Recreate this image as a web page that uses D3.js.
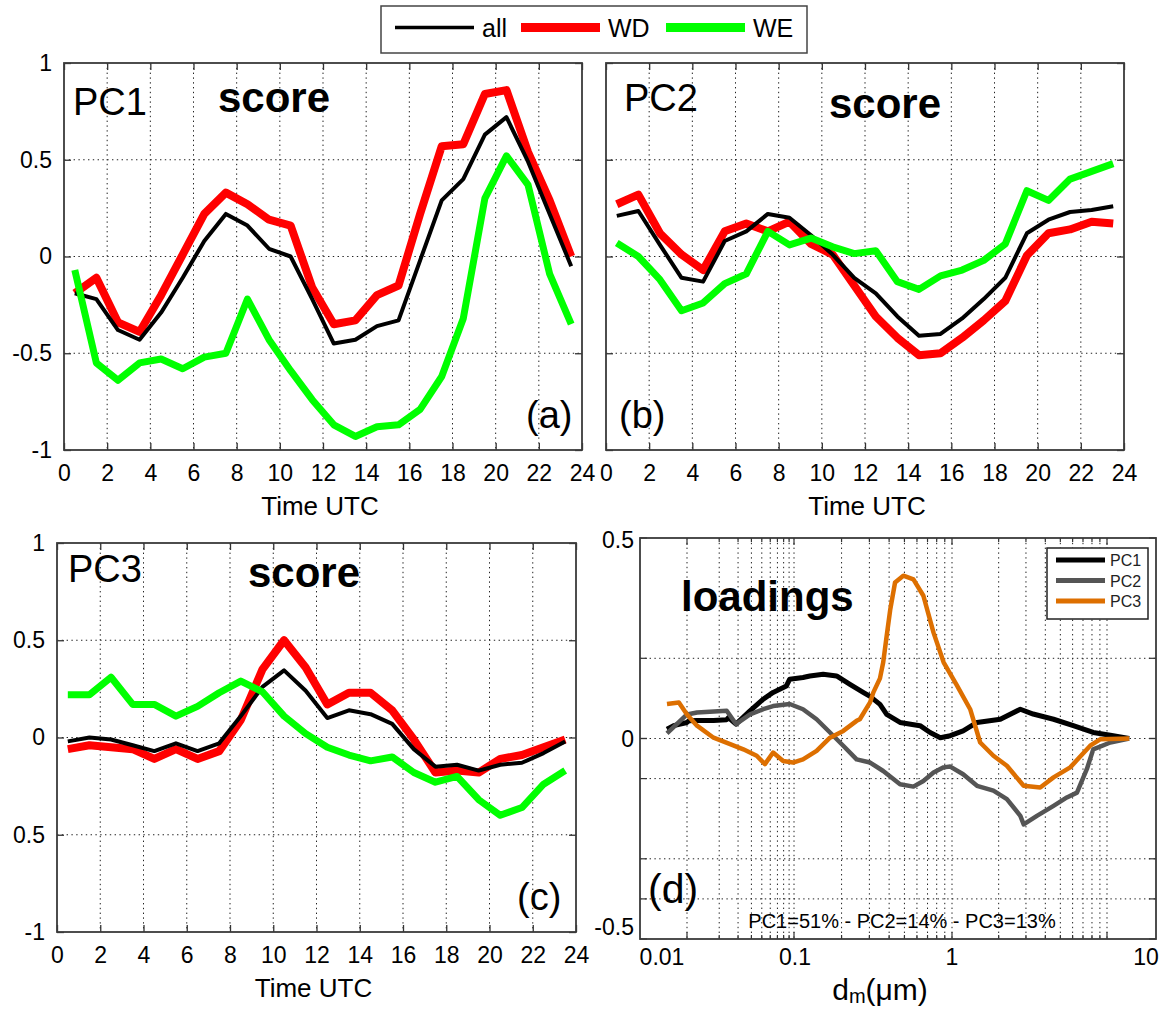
<!DOCTYPE html>
<html>
<head>
<meta charset="utf-8">
<script src="https://cdn.jsdelivr.net/npm/d3@7"></script>
<style>
  body { margin: 0; background: #fff; }
  svg { display: block; font-family: "Liberation Sans", Arial, sans-serif; }
  .grid { stroke: #222; stroke-width: 1; stroke-dasharray: 1.4, 3.4; fill: none; }
  .frame { fill: none; stroke: #3a3a3a; stroke-width: 1.8; }
</style>
</head>
<body>
<svg id="fig" width="1168" height="1009"></svg>
<script>
// ---- data ----
const hours = [0.5, 1.5, 2.5, 3.5, 4.5, 5.5, 6.5, 7.5, 8.5, 9.5, 10.5, 11.5,
               12.5, 13.5, 14.5, 15.5, 16.5, 17.5, 18.5, 19.5, 20.5, 21.5, 22.5, 23.5];

const pc1All = [-0.19, -0.22, -0.38, -0.43, -0.29, -0.11, 0.08, 0.22, 0.16, 0.04, 0.00, -0.22,
                -0.45, -0.43, -0.36, -0.33, -0.02, 0.29, 0.40, 0.63, 0.72, 0.49, 0.22, -0.05];
const pc1WD  = [-0.19, -0.11, -0.34, -0.39, -0.20, 0.01, 0.22, 0.33, 0.27, 0.19, 0.16, -0.16,
                -0.35, -0.33, -0.20, -0.15, 0.22, 0.57, 0.58, 0.84, 0.86, 0.54, 0.29, 0.00];
const pc1WE  = [-0.07, -0.55, -0.64, -0.55, -0.53, -0.58, -0.52, -0.50, -0.22, -0.43, -0.59, -0.74,
                -0.87, -0.93, -0.88, -0.87, -0.79, -0.62, -0.32, 0.30, 0.52, 0.37, -0.09, -0.35];

const pc2All = [0.21, 0.235, 0.06, -0.11, -0.13, 0.08, 0.13, 0.22, 0.20, 0.11, 0.01, -0.11,
                -0.19, -0.31, -0.41, -0.40, -0.32, -0.22, -0.11, 0.12, 0.19, 0.23, 0.24, 0.26];
const pc2WD  = [0.27, 0.32, 0.12, 0.01, -0.07, 0.13, 0.17, 0.13, 0.18, 0.065, 0.01, -0.15,
                -0.31, -0.42, -0.51, -0.50, -0.42, -0.33, -0.23, 0.005, 0.12, 0.14, 0.18, 0.17];
const pc2WE  = [0.07, 0.00, -0.12, -0.28, -0.24, -0.14, -0.09, 0.13, 0.06, 0.095, 0.05, 0.015,
                0.03, -0.13, -0.17, -0.10, -0.07, -0.02, 0.065, 0.34, 0.29, 0.40, 0.44, 0.48];

const pc3All = [-0.02, 0.00, -0.01, -0.04, -0.07, -0.03, -0.07, -0.03, 0.11, 0.26, 0.345, 0.24,
                0.10, 0.14, 0.12, 0.07, -0.06, -0.15, -0.14, -0.17, -0.14, -0.13, -0.08, -0.02];
const pc3WD  = [-0.06, -0.04, -0.05, -0.06, -0.11, -0.06, -0.11, -0.07, 0.09, 0.35, 0.50, 0.36,
                0.17, 0.23, 0.23, 0.14, -0.01, -0.18, -0.17, -0.18, -0.11, -0.09, -0.05, -0.01];
const pc3WE  = [0.22, 0.22, 0.31, 0.17, 0.17, 0.11, 0.16, 0.23, 0.29, 0.235, 0.11, 0.02,
                -0.05, -0.09, -0.12, -0.10, -0.18, -0.23, -0.20, -0.32, -0.40, -0.36, -0.24, -0.17];

// loadings: diameter (um) and value
const dmPC1 = [0.0065, 0.0075, 0.0100, 0.0104, 0.0124, 0.0177, 0.0235, 0.0244, 0.0287, 0.0388, 0.0516,
               0.0638, 0.0849, 0.0912, 0.114, 0.126, 0.153, 0.186, 0.226, 0.274, 0.303, 0.350, 0.386,
               0.469, 0.560, 0.628, 0.727, 0.843, 0.975, 1.18, 1.45, 2.05, 2.76, 3.34, 4.52, 6.06,
               8.15, 10.5, 13.9];
const ldPC1 = [0.023, 0.032, 0.040, 0.044, 0.045, 0.045, 0.047, 0.052, 0.036, 0.069, 0.098,
               0.115, 0.131, 0.148, 0.152, 0.156, 0.160, 0.156, 0.135, 0.115, 0.105, 0.085, 0.060,
               0.040, 0.035, 0.032, 0.015, 0.002, 0.007, 0.019, 0.040, 0.048, 0.073, 0.061, 0.048, 0.032,
               0.015, 0.008, 0.000];

const dmPC2 = [0.0065, 0.0100, 0.0124, 0.0235, 0.0287, 0.0388, 0.0516, 0.0638, 0.0912, 0.114, 0.139,
               0.169, 0.205, 0.249, 0.303, 0.367, 0.469, 0.570, 0.659, 0.764, 0.885, 0.975, 1.18,
               1.45, 1.85, 2.26, 2.76, 2.90, 3.53, 4.52, 5.51, 6.40, 7.42, 8.15, 10.5, 13.9];
const ldPC2 = [0.013, 0.060, 0.065, 0.069, 0.036, 0.060, 0.073, 0.081, 0.086, 0.073, 0.048,
               0.015, -0.018, -0.052, -0.060, -0.081, -0.114, -0.120, -0.106, -0.085, -0.072, -0.070, -0.089,
               -0.118, -0.130, -0.151, -0.193, -0.214, -0.193, -0.168, -0.147, -0.135, -0.076, -0.027, -0.010, 0.000];

const dmPC3 = [0.0065, 0.0084, 0.0100, 0.0124, 0.0177, 0.0253, 0.0336, 0.0448, 0.0535, 0.0638, 0.0791,
               0.0979, 0.114, 0.139, 0.169, 0.205, 0.249, 0.261, 0.303, 0.318, 0.350, 0.367, 0.386, 0.406,
               0.436, 0.492, 0.570, 0.659, 0.764, 0.885, 1.08, 1.31, 1.52, 1.85, 2.26, 2.90,
               3.71, 4.52, 5.79, 7.79, 9.03, 13.9];
const ldPC3 = [0.086, 0.090, 0.060, 0.032, 0.002, -0.014, -0.027, -0.043, -0.064, -0.035, -0.056,
               -0.060, -0.052, -0.031, 0.002, 0.019, 0.044, 0.048, 0.090, 0.115, 0.150, 0.190, 0.256, 0.320,
               0.389, 0.406, 0.397, 0.356, 0.264, 0.190, 0.131, 0.073, -0.010, -0.043, -0.068, -0.118,
               -0.122, -0.097, -0.072, -0.018, -0.002, 0.000];

const seriesNames = ["all", "WD", "WE"];
const seriesColors = ["#000000", "#ff0000", "#00ff00"];
const seriesWidths = [4, 8, 7];
const loadNames = ["PC1", "PC2", "PC3"];
const loadColors = ["#000000", "#555555", "#dd6f00"];

const hourTicks = [0, 2, 4, 6, 8, 10, 12, 14, 16, 18, 20, 22, 24];
const scoreTicks = [-1, -0.5, 0, 0.5, 1];
const scoreTicksC = ["-1", "0.5", "0", "0.5", "1"];   // as printed in panel (c)
const loadTicks = [-0.5, 0, 0.5];
const loadGridY = [0.2, 0, -0.1, -0.3, -0.4];
const dmDecades = [0.01, 0.1, 1, 10];
const dmLabels = ["0.01", "0.1", "1", "10"];
const dmMinor = [1, 2, 3, 4, 5, 6, 7, 8, 9];

// ---- drawing ----
const svg = d3.select("#fig");
const FONT = 23;

function scorePanel(box, data, o) {
  const g = svg.append("g");
  const x = d3.scaleLinear().domain([0, 24]).range([box.x0, box.x1]);
  const y = d3.scaleLinear().domain([-1, 1]).range([box.y1, box.y0]);

  // grid
  g.selectAll(".gx").data(hourTicks.slice(1, -1)).join("line").attr("class", "grid")
    .attr("x1", d => x(d)).attr("x2", d => x(d)).attr("y1", box.y0).attr("y2", box.y1);
  g.selectAll(".gy").data(scoreTicks.slice(1, -1)).join("line").attr("class", "grid")
    .attr("y1", d => y(d)).attr("y2", d => y(d)).attr("x1", box.x0).attr("x2", box.x1);

  // axes (ticks inward)
  g.append("g").attr("transform", `translate(0,${box.y1})`)
    .call(d3.axisBottom(x).tickValues(hourTicks).tickSizeInner(-7).tickSizeOuter(0).tickPadding(15));
  g.append("g").attr("transform", `translate(0,${box.y0})`)
    .call(d3.axisTop(x).tickValues(hourTicks).tickSizeInner(-7).tickSizeOuter(0).tickFormat(""));
  g.append("g").attr("transform", `translate(${box.x0},0)`)
    .call(d3.axisLeft(y).tickValues(scoreTicks).tickSizeInner(-7).tickSizeOuter(0).tickPadding(12)
      .tickFormat((d, i) => o.ylabels ? o.ylabels[i] : ""));
  g.append("g").attr("transform", `translate(${box.x1},0)`)
    .call(d3.axisRight(y).tickValues(scoreTicks).tickSizeInner(-7).tickSizeOuter(0).tickFormat(""));
  g.selectAll(".domain").remove();
  g.selectAll(".tick line").attr("stroke", "#333").attr("stroke-width", 1.3);
  g.selectAll(".tick text").attr("font-size", FONT).attr("font-family", null).attr("fill", "#000");

  // lines
  const line = d3.line().x((d, i) => x(hours[i])).y(d => y(d));
  [1, 0, 2].forEach(k => {
    g.append("path").attr("d", line(data[k])).attr("fill", "none")
      .attr("stroke", seriesColors[k]).attr("stroke-width", seriesWidths[k])
      .attr("stroke-linejoin", "round").attr("stroke-linecap", "butt");
  });

  g.append("rect").attr("class", "frame").attr("x", box.x0).attr("y", box.y0)
    .attr("width", box.x1 - box.x0).attr("height", box.y1 - box.y0);

  g.append("text").attr("x", (box.x0 + box.x1) / 2 + o.tdx).attr("y", box.y1 + 65)
    .attr("text-anchor", "middle").attr("font-size", 26).text("Time UTC");
  g.append("text").attr("x", o.pc[0]).attr("y", o.pc[1]).attr("font-size", 38).text(o.pcText);
  g.append("text").attr("x", o.sc[0]).attr("y", o.sc[1]).attr("font-size", 42)
    .attr("font-weight", "bold").text("score");
  g.append("text").attr("x", o.lab[0]).attr("y", o.lab[1]).attr("font-size", 38).text(o.labText);
}

scorePanel({x0: 64, x1: 582, y0: 63, y1: 450}, [pc1All, pc1WD, pc1WE],
  {ylabels: scoreTicks.map(String), pcText: "PC1", pc: [73, 115], sc: [218, 112], labText: "(a)", lab: [526, 428], tdx: -3});
scorePanel({x0: 606, x1: 1124, y0: 63, y1: 450}, [pc2All, pc2WD, pc2WE],
  {ylabels: null, pcText: "PC2", pc: [624, 111], sc: [829, 118], labText: "(b)", lab: [619, 428], tdx: 2});
scorePanel({x0: 57, x1: 576, y0: 543, y1: 932}, [pc3All, pc3WD, pc3WE],
  {ylabels: scoreTicksC, pcText: "PC3", pc: [68, 582], sc: [248, 587], labText: "(c)", lab: [517, 910], tdx: -3});

// ---- panel (d): loadings ----
(function () {
  const box = {x0: 640, x1: 1156, y0: 538, y1: 939};
  const g = svg.append("g");
  // the grid decades are not evenly spaced in the figure, so map log10(dm) piecewise
  const xl = d3.scaleLinear().domain([-2, -1, 0, 1])
    .range([box.x0 + 47, box.x0 + 154, box.x0 + 312, box.x0 + 467]);
  const x = v => xl(Math.log10(v));
  const y = d3.scaleLinear().domain([-0.5, 0.5]).range([box.y1, box.y0]);

  const minorVals = [];
  dmDecades.slice(0, 3).forEach(dec => dmMinor.forEach(k => minorVals.push(k * dec)));
  minorVals.push(10);

  g.selectAll(".gx").data(minorVals).join("line").attr("class", "grid")
    .attr("x1", d => x(d)).attr("x2", d => x(d)).attr("y1", box.y0).attr("y2", box.y1)
    .attr("stroke-width", d => dmDecades.includes(d) ? 1.3 : 1);
  g.selectAll(".gy").data(loadGridY).join("line").attr("class", "grid")
    .attr("y1", d => y(d)).attr("y2", d => y(d)).attr("x1", box.x0).attr("x2", box.x1);

  // ticks
  g.selectAll(".tb").data(minorVals).join("line").attr("stroke", "#333").attr("stroke-width", 1.2)
    .attr("x1", d => x(d)).attr("x2", d => x(d)).attr("y1", box.y1)
    .attr("y2", d => box.y1 - (dmDecades.includes(d) ? 7 : 4));
  g.selectAll(".tt").data(minorVals).join("line").attr("stroke", "#333").attr("stroke-width", 1.2)
    .attr("x1", d => x(d)).attr("x2", d => x(d)).attr("y1", box.y0)
    .attr("y2", d => box.y0 + (dmDecades.includes(d) ? 7 : 4));
  [box.x0, box.x1].forEach((xx, s) => {
    g.selectAll(null).data(loadGridY.concat(loadTicks)).join("line").attr("stroke", "#333")
      .attr("stroke-width", 1.2).attr("x1", xx).attr("x2", xx + (s ? -7 : 7))
      .attr("y1", d => y(d)).attr("y2", d => y(d));
  });

  g.selectAll(".xl").data(dmDecades).join("text").attr("font-size", FONT).attr("text-anchor", "middle")
    .attr("x", (d, i) => x(d) + [-25, 1, 0, 39][i]).attr("y", box.y1 + 26).text((d, i) => dmLabels[i]);
  g.selectAll(".yl").data(loadTicks).join("text").attr("font-size", FONT).attr("text-anchor", "end")
    .attr("x", box.x0 - 6).attr("y", (d, i) => y(d) + 8 + [-12, 0, 2][i])
    .text(d => d === 0 ? "0" : String(d));

  const line = d3.line().x(d => x(d[0])).y(d => y(d[1]));
  const sets = [[dmPC1, ldPC1], [dmPC2, ldPC2], [dmPC3, ldPC3]];
  sets.forEach((s, k) => {
    g.append("path").attr("d", line(d3.zip(s[0], s[1]))).attr("fill", "none")
      .attr("stroke", loadColors[k]).attr("stroke-width", k === 0 ? 5 : 4.5)
      .attr("stroke-linejoin", "round");
  });

  g.append("rect").attr("class", "frame").attr("x", box.x0).attr("y", box.y0)
    .attr("width", box.x1 - box.x0).attr("height", box.y1 - box.y0);

  g.append("text").attr("x", 681).attr("y", 611).attr("font-size", 42).attr("font-weight", "bold").text("loadings");
  g.append("text").attr("x", 648).attr("y", 903).attr("font-size", 41).text("(d)");
  g.append("text").attr("x", 902).attr("y", 928).attr("font-size", 20).attr("text-anchor", "middle")
    .text("PC1=51% - PC2=14% - PC3=13%");

  const xt = g.append("text").attr("x", 880).attr("y", 1000).attr("font-size", 30).attr("text-anchor", "middle");
  xt.append("tspan").text("d");
  xt.append("tspan").attr("font-size", 20).attr("dy", 3).text("m");
  xt.append("tspan").attr("dy", -3).text("(\u03bcm)");

  // legend
  const lg = g.append("g").attr("transform", "translate(1047,548)");
  lg.append("rect").attr("width", 101).attr("height", 71).attr("fill", "#fff").attr("stroke", "#222").attr("stroke-width", 1.5);
  loadNames.forEach((n, i) => {
    const yy = 12 + i * 20.5;
    lg.append("line").attr("x1", 9).attr("x2", 58).attr("y1", yy).attr("y2", yy)
      .attr("stroke", loadColors[i]).attr("stroke-width", 5);
    lg.append("text").attr("x", 63).attr("y", yy + 6).attr("font-size", 16).attr("fill", "#222").text(n);
  });
})();

// ---- top legend ----
(function () {
  const lg = svg.append("g").attr("transform", "translate(381,6)");
  lg.append("rect").attr("width", 426).attr("height", 47).attr("fill", "#fff")
    .attr("stroke", "#444").attr("stroke-width", 1.5);
  const ex = [14, 140, 285];
  seriesNames.forEach((n, i) => {
    lg.append("line").attr("x1", ex[i]).attr("x2", ex[i] + 79).attr("y1", 21.5).attr("y2", 21.5)
      .attr("stroke", seriesColors[i]).attr("stroke-width", i === 0 ? 3.5 : 9);
    lg.append("text").attr("x", ex[i] + 87).attr("y", 31).attr("font-size", 25).text(n);
  });
})();
</script>
</body>
</html>
